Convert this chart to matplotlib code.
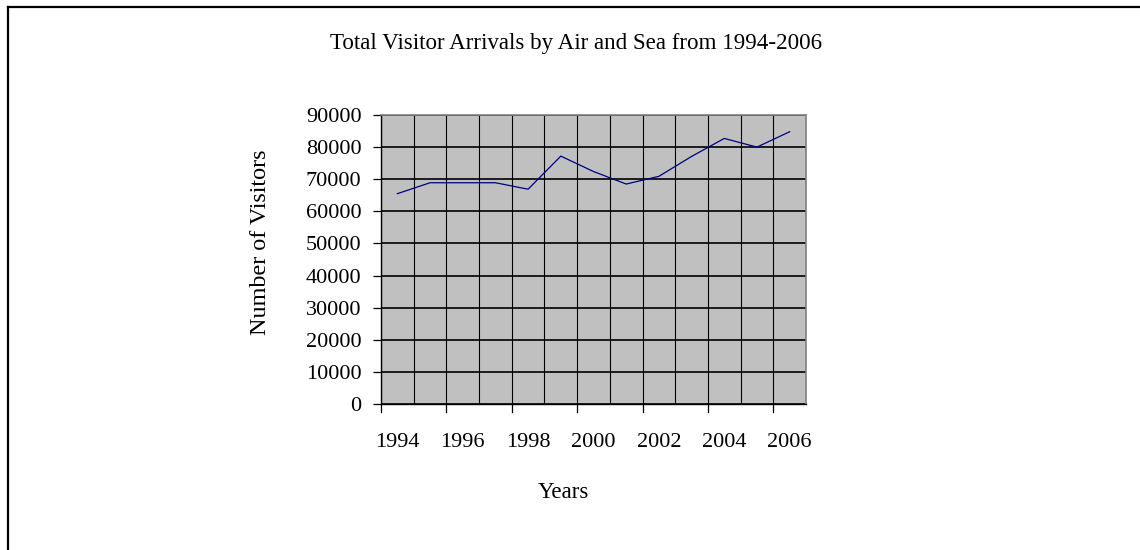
import matplotlib
matplotlib.use('Agg')
import matplotlib.pyplot as plt
from matplotlib.lines import Line2D
import numpy as np

years = [1994, 1995, 1996, 1997, 1998, 1999, 2000, 2001, 2002, 2003, 2004, 2005, 2006]
visitors = [65500, 68900, 68900, 68900, 66900, 77200, 72400, 68500, 70900, 77100, 82700, 80000, 84800]
y_ticks = list(range(0, 90001, 10000))

plt.rcParams['font.family'] = ['Liberation Serif', 'DejaVu Serif']
fs = 16
fs_lab = 16.6

fig = plt.figure(figsize=(11.4, 5.5), dpi=100)
ax = fig.add_axes([381 / 1140, 1 - 404 / 550, 425 / 1140, 289 / 550])

pos = np.arange(len(years))
ax.plot(pos, visitors, color='#000080', lw=0.9, zorder=3)

ax.set_facecolor('#C0C0C0')
ax.set_xlim(-0.5, len(years) - 0.5)
ax.set_ylim(0, 90000)

# labels at category centres, every second year
ax.set_xticks(pos[::2])
ax.set_xticklabels([str(y) for y in years[::2]], fontsize=fs)
ax.tick_params(axis='x', which='major', length=0, pad=21)
# boundaries between categories
bounds = np.arange(len(years) + 1) - 0.5
ax.set_xticks(bounds, minor=True)
ax.tick_params(axis='x', which='minor', length=0)
for b in bounds[::2]:
    ax.plot([b, b], [0, -0.028], color='black', lw=0.9, transform=ax.get_xaxis_transform(), clip_on=False)
ax.grid(axis='x', which='minor', color='black', lw=0.8)

ax.set_yticks(y_ticks)
ax.set_yticklabels([str(v) for v in y_ticks], fontsize=fs)
ax.tick_params(axis='y', length=6, width=0.9, pad=8, direction='out')
ax.grid(axis='y', which='major', color='black', lw=1.2)
ax.set_axisbelow(True)

for s in ['top', 'right']:
    ax.spines[s].set_color('#808080')
    ax.spines[s].set_linewidth(1.2)
for s in ['left', 'bottom']:
    ax.spines[s].set_color('black')
    ax.spines[s].set_linewidth(1.0)

fig.text(576 / 1140, 1 - 44 / 550, 'Total Visitor Arrivals by Air and Sea from 1994-2006',
         ha='center', va='center', fontsize=fs_lab)
fig.text(260 / 1140, 1 - 242 / 550, 'Number of Visitors', rotation=90,
         ha='center', va='center', fontsize=fs_lab + 0.8)
fig.text(563 / 1140, 1 - 493 / 550, 'Years', ha='center', va='center', fontsize=fs_lab)

# outer frame (left and top only visible)
fig.add_artist(Line2D([7.5 / 1140, 7.5 / 1140], [0, 1 - 6.5 / 550], color='black', lw=1.6,
                      transform=fig.transFigure))
fig.add_artist(Line2D([7.5 / 1140, 1], [1 - 6.5 / 550, 1 - 6.5 / 550], color='black', lw=1.6,
                      transform=fig.transFigure))

fig.savefig('out.png', dpi=100, facecolor='white')
